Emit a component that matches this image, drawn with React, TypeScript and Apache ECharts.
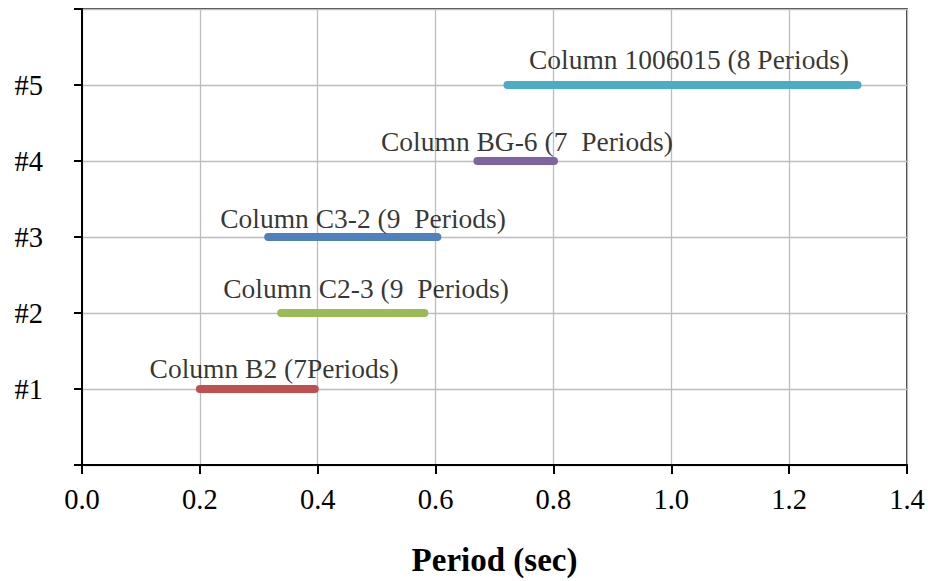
import React, { useEffect, useRef } from "react";
import * as echarts from "echarts";

const categories = ["#1", "#2", "#3", "#4", "#5"];
const columnNames = [
  "Column B2 (7Periods)",
  "Column C2-3 (9  Periods)",
  "Column C3-2 (9  Periods)",
  "Column BG-6 (7  Periods)",
  "Column 1006015 (8 Periods)",
];
const startPeriods = [0.2, 0.338, 0.316, 0.671, 0.722];
const endPeriods = [0.395, 0.581, 0.603, 0.801, 1.316];
const labelX = [0.326, 0.482, 0.477, 0.755, 1.03];
const labelY = [1.27, 2.32, 3.24, 4.26, 5.33];
const colors = ["#C0504D", "#9BBB59", "#4F81BD", "#8064A2", "#4BACC6"];
const xTicks = [0, 0.2, 0.4, 0.6, 0.8, 1.0, 1.2, 1.4];

const FONT = "'Times New Roman', 'Liberation Serif', serif";

export default function App() {
  const ref = useRef<HTMLDivElement>(null);
  useEffect(() => {
    if (!ref.current) return;
    const chart = echarts.init(ref.current, null, { renderer: "svg" });
    const lineSeries = categories.map((c, i) => ({
      type: "line",
      name: c,
      data: [
        [startPeriods[i], i + 1],
        [endPeriods[i], i + 1],
      ],
      showSymbol: false,
      symbol: "none",
      lineStyle: { color: colors[i], width: 8, cap: "round" },
      z: 3,
    }));
    const labelSeries = {
      type: "scatter",
      symbolSize: 0,
      data: columnNames.map((n, i) => ({ value: [labelX[i], labelY[i]], name: n })),
      label: {
        show: true,
        position: "inside",
        formatter: (p: any) => p.name,
        color: "#000",
        fontFamily: FONT,
        fontSize: 27.5,
      },
      z: 4,
    };
    chart.setOption({
      animation: false,
      backgroundColor: "#fff",
      grid: {
        left: 82,
        right: 21,
        top: 9,
        bottom: 114,
        show: true,
        borderColor: "#000",
        borderWidth: 1.5,
      },
      xAxis: {
        type: "value",
        min: 0,
        max: 1.4,
        interval: 0.2,
        name: "Period (sec)",
        nameLocation: "middle",
        nameGap: 78,
        nameTextStyle: { fontFamily: FONT, fontSize: 33, fontWeight: "bold", color: "#000" },
        axisLine: { show: true, lineStyle: { color: "#000", width: 2 } },
        axisTick: { show: true, inside: false, length: 9, lineStyle: { color: "#000", width: 2 } },
        axisLabel: {
          color: "#000",
          fontFamily: FONT,
          fontSize: 28.5,
          margin: 20,
          formatter: (v: number) => {
            const t = xTicks.find((x) => Math.abs(x - v) < 1e-6);
            return (t !== undefined ? t : v).toFixed(1);
          },
        },
        splitLine: { show: true, lineStyle: { color: "#bdbdbd", width: 1.3 } },
      },
      yAxis: {
        type: "value",
        min: 0,
        max: 6,
        interval: 1,
        axisLine: { show: true, lineStyle: { color: "#000", width: 2 } },
        axisTick: { show: true, inside: false, length: 8, lineStyle: { color: "#000", width: 2 } },
        axisLabel: {
          color: "#000",
          fontFamily: FONT,
          fontSize: 28.5,
          margin: 39,
          formatter: (v: number) => {
            const idx = Math.round(v) - 1;
            return idx >= 0 && idx < categories.length ? categories[idx] : "";
          },
        },
        splitLine: { show: true, lineStyle: { color: "#bdbdbd", width: 1.3 } },
      },
      series: [...lineSeries, labelSeries],
    });
    return () => chart.dispose();
  }, []);
  return (
    <div
      ref={ref}
      style={{ position: "absolute", left: 0, top: 0, width: 928, height: 581 }}
    />
  );
}
